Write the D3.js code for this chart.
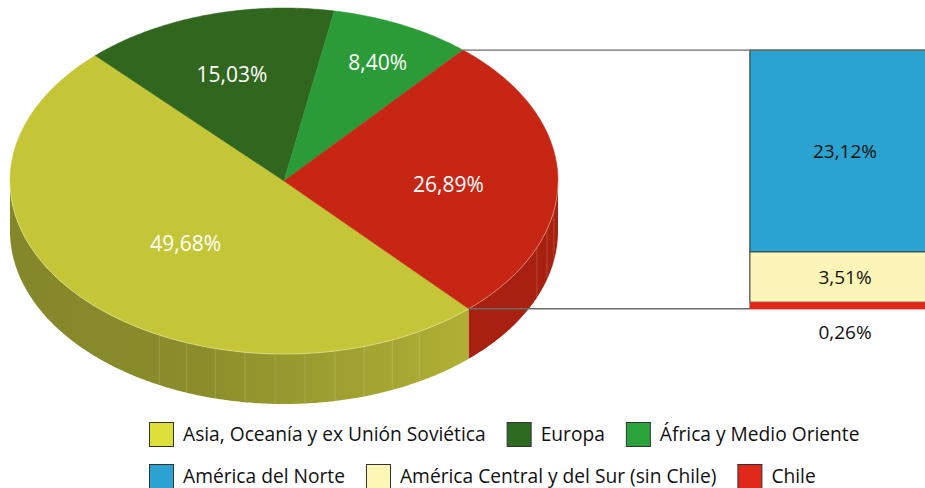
<!DOCTYPE html>
<html>
<head>
<meta charset="utf-8">
<script src="https://cdn.jsdelivr.net/npm/d3@7"></script>
<style>
  body { margin: 0; background: #fff; }
  svg { display: block; font-family: "Open Sans", sans-serif; }
</style>
</head>
<body>
<div id="chart"></div>
<script>
// pie: share of each region (%)
var regions = ["Asia, Oceanía y ex Unión Soviética", "Europa", "África y Medio Oriente", "América"];
var shares = [49.68, 15.03, 8.40, 26.89];
var shareLabels = ["49,68%", "15,03%", "8,40%", "26,89%"];

// breakdown of the America slice
var americaParts = ["América del Norte", "América Central y del Sur (sin Chile)", "Chile"];
var americaShares = [23.12, 3.51, 0.26];
var americaLabels = ["23,12%", "3,51%", "0,26%"];

var legendLabels = ["Asia, Oceanía y ex Unión Soviética", "Europa", "África y Medio Oriente",
                    "América del Norte", "América Central y del Sur (sin Chile)", "Chile"];

var topColors = ["#c5c637", "#31661f", "#2a9b37", "#c82615"];
var wallColors = ["url(#wallYellow)", "#25501a", "#1f7a2a", "#a82010"];
var barColors = ["#2aa3d0", "#fdf5b8", "#e0281a"];
var legendColors = ["#dede3a", "#2e6b20", "#2aa33a", "#2aa3d3", "#fef6b5", "#e0281a"];

var W = 925, H = 488;
var cx = 284, cy = 181, rx = 274, ry = 173, depth = 50;
var labelR = [0.49, 0.67, 0.79, 0.6];

var svg = d3.select("#chart").append("svg")
    .attr("width", W)
    .attr("height", H);

var defs = svg.append("defs");
var grad = defs.append("linearGradient")
    .attr("id", "wallYellow")
    .attr("x1", "0%").attr("x2", "100%")
    .attr("y1", "0%").attr("y2", "0%");
grad.append("stop").attr("offset", "0%").attr("stop-color", "#84872a");
grad.append("stop").attr("offset", "40%").attr("stop-color", "#8b8d2b");
grad.append("stop").attr("offset", "100%").attr("stop-color", "#b0b035");

var startA = 137.6 * Math.PI / 180;
var pie = d3.pie()
    .sort(null)
    .value(d => d)
    .startAngle(startA)
    .endAngle(startA + 2 * Math.PI);
var arcs = pie(shares);

function px(a, f) { return cx + rx * (f == null ? 1 : f) * Math.sin(a); }
function py(a, f) { return cy - ry * (f == null ? 1 : f) * Math.cos(a); }

function arcPoints(a0, a1, dy) {
    var n = Math.max(2, Math.ceil(Math.abs(a1 - a0) / 0.01));
    return d3.range(n + 1).map(i => {
        var a = a0 + (a1 - a0) * i / n;
        return [px(a), py(a) + dy];
    });
}

var line = d3.line();

// front walls (visible where the rim faces the viewer)
var fronts = [[Math.PI / 2, 1.5 * Math.PI], [2.5 * Math.PI, 3.5 * Math.PI]];
var deg = Math.PI / 180;
var wallG = svg.append("g");
arcs.forEach((d, i) => {
    fronts.forEach((f, fi) => {
        var a0 = Math.max(d.startAngle, f[0]);
        var a1 = Math.min(d.endAngle, f[1]);
        if (a1 <= a0) return;
        var top = arcPoints(a0, a1, 0);
        var bot = arcPoints(a0, a1, depth).reverse();
        wallG.append("path")
            .attr("d", line(top.concat(bot)) + "Z")
            .attr("fill", wallColors[i]);
        // facet lines on the rim
        var off = fi * 2 * Math.PI;
        for (var a = off + 100 * deg; a < off + 212 * deg; a += 6.3 * deg) {
            if (a <= a0 + 0.02 || a >= a1 - 0.02) continue;
            if (a > off + 115 * deg && a < off + 145 * deg) continue;
            wallG.append("line")
                .attr("x1", px(a)).attr("y1", py(a))
                .attr("x2", px(a)).attr("y2", py(a) + depth)
                .attr("stroke", "#e8e8c0")
                .attr("stroke-opacity", 0.3)
                .attr("stroke-width", 0.7);
        }
    });
});

// top faces
var topG = svg.append("g");
arcs.forEach((d, i) => {
    var pts = [[cx, cy]].concat(arcPoints(d.startAngle, d.endAngle, 0));
    topG.append("path")
        .attr("d", line(pts) + "Z")
        .attr("fill", topColors[i])
        .attr("stroke", topColors[i])
        .attr("stroke-width", 0.5);
});

// rim highlight on the front
topG.append("path")
    .attr("d", line(arcPoints(fronts[0][0], fronts[0][1], 0)))
    .attr("fill", "none")
    .attr("stroke", "#f2f2d8")
    .attr("stroke-opacity", 0.5)
    .attr("stroke-width", 0.8);

// pie labels
arcs.forEach((d, i) => {
    var mid = (d.startAngle + d.endAngle) / 2;
    svg.append("text")
        .attr("x", px(mid, labelR[i]))
        .attr("y", py(mid, labelR[i]) + 5)
        .attr("dy", "0.35em")
        .attr("text-anchor", "middle")
        .attr("fill", "#fff")
        .attr("font-size", 21)
        .text(shareLabels[i]);
});

// America breakdown bar
var am = arcs[3];
var topY = py(am.startAngle), botY = py(am.endAngle);
var barX = 750, barW = 200;
var hScale = d3.scalePow().exponent(0.74)
    .domain([0, d3.max(americaShares)])
    .range([0, 202]);

var stackY = [];
var acc = topY;
americaShares.forEach(v => { stackY.push(acc); acc += hScale(v); });

svg.append("line")
    .attr("x1", px(am.endAngle)).attr("y1", botY)
    .attr("x2", barX).attr("y2", botY)
    .attr("stroke", "#6b6b6b").attr("stroke-width", 1.3);
svg.append("line")
    .attr("x1", barX).attr("y1", topY)
    .attr("x2", barX).attr("y2", botY)
    .attr("stroke", "#6b6b6b").attr("stroke-width", 1.3);

americaShares.forEach((v, i) => {
    svg.append("rect")
        .attr("x", barX)
        .attr("y", stackY[i])
        .attr("width", barW)
        .attr("height", hScale(v))
        .attr("fill", barColors[i])
        .attr("stroke", i < 2 ? "#333" : "none")
        .attr("stroke-width", 0.8);
});
// top connector runs over the bar
svg.append("line")
    .attr("x1", px(am.startAngle)).attr("y1", topY)
    .attr("x2", W).attr("y2", topY)
    .attr("stroke", "#6b6b6b").attr("stroke-width", 1.3);

americaShares.forEach((v, i) => {
    var y = i < 2 ? stackY[i] + hScale(v) / 2 : stackY[i] + hScale(v) + 23;
    svg.append("text")
        .attr("x", 845)
        .attr("y", y)
        .attr("dy", "0.35em")
        .attr("text-anchor", "middle")
        .attr("fill", "#111")
        .attr("font-size", 19)
        .text(americaLabels[i]);
});

// legend
var rows = [[0, 1, 2], [3, 4, 5]];
var rowY = [434, 476];
var legend = svg.append("g").attr("font-size", 19.2).attr("fill", "#111");
rows.forEach((r, ri) => {
    var x = 149;
    r.forEach(k => {
        legend.append("rect")
            .attr("x", x + 0.5).attr("y", rowY[ri] - 12 + 0.5)
            .attr("width", 24).attr("height", 24)
            .attr("fill", legendColors[k])
            .attr("stroke", "#333").attr("stroke-width", 1);
        var t = legend.append("text")
            .attr("x", x + 34)
            .attr("y", rowY[ri])
            .attr("dy", "0.35em")
            .text(legendLabels[k]);
        x += 34 + t.node().getComputedTextLength() + 21;
    });
});
</script>
</body>
</html>
